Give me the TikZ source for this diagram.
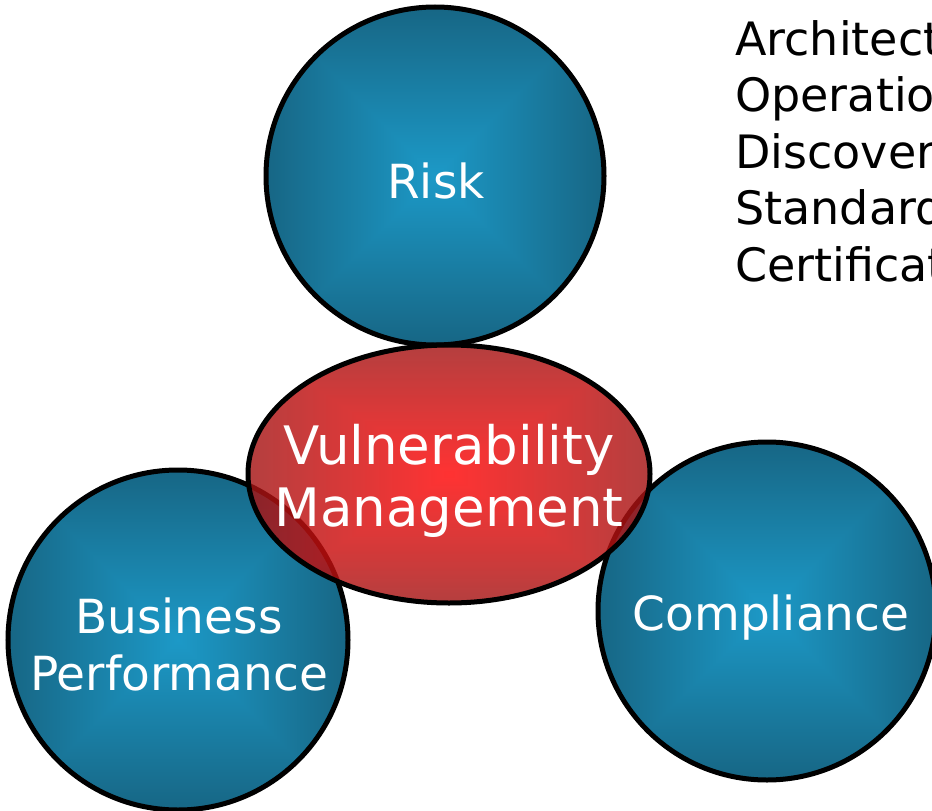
\documentclass[tikz,border=0pt]{standalone}
\usepackage{fontspec}
\setmainfont{DejaVu Sans}
\usetikzlibrary{shapes.geometric}
\pgfdeclarefunctionalshading{tealsq}{\pgfpoint{-50bp}{-50bp}}{\pgfpoint{50bp}{50bp}}{}{
abs exch abs 2 copy lt {exch} if pop 25 div dup 1 gt {pop 1} if
dup -0.02 mul 0.11 add exch dup -0.20 mul 0.60 add exch -0.26 mul 0.78 add
}
\pgfdeclarefunctionalshading{redsq}{\pgfpoint{-50bp}{-50bp}}{\pgfpoint{50bp}{50bp}}{}{
abs exch abs 2 copy lt {exch} if pop 25 div dup 1 gt {pop 1} if
dup -0.36 mul 1.0 add exch dup 0.06 mul 0.02 add exch 0.06 mul 0.02 add
}
\tikzset{
  ball/.style={circle, draw=black, line width=5pt, shading=tealsq, inner sep=0pt, minimum size=338pt},
  vmshape/.style={ellipse, draw=black, line width=5pt, shading=redsq, fill opacity=0.82, draw opacity=1, inner sep=0pt, minimum width=402pt, minimum height=258pt},
  lbl/.style={text=white, anchor=base, inner sep=0pt, font=\fontsize{47}{56}\selectfont},
  vlbl/.style={text=white, anchor=base, inner sep=0pt, font=\fontsize{53}{62}\selectfont},
  item/.style={text=black, anchor=base west, inner sep=0pt, font=\fontsize{46}{56}\selectfont}
}
\begin{document}
\begin{tikzpicture}[x=1pt,y=-1pt]
\useasboundingbox (0,0) rectangle (932,811);
\clip (0,0) rectangle (932,811);
\node[ball] (risk) at (435,176) {};
\node[ball, minimum size=340pt] (bp) at (178,640) {};
\node[ball] (comp) at (767,611) {};
\node[vmshape] (vm) at (449,474) {};
\node[lbl] (trisk) at (436,198) {Risk};
\node[vlbl] (tvm1) at (449,464) {Vulnerability};
\node[vlbl] (tvm2) at (449,526) {Management};
\node[lbl] (tbp1) at (179,633) {Business};
\node[lbl] (tbp2) at (179,690) {Performance};
\node[lbl] (tcomp) at (771,630) {Compliance};
\node[item] (l1) at (735,55) {Architecture};
\node[item] (l2) at (735,111.5) {Operations};
\node[item] (l3) at (735,168) {Discovery};
\node[item] (l4) at (735,224.5) {Standards};
\node[item] (l5) at (735,281) {Certification};
\end{tikzpicture}
\end{document}
